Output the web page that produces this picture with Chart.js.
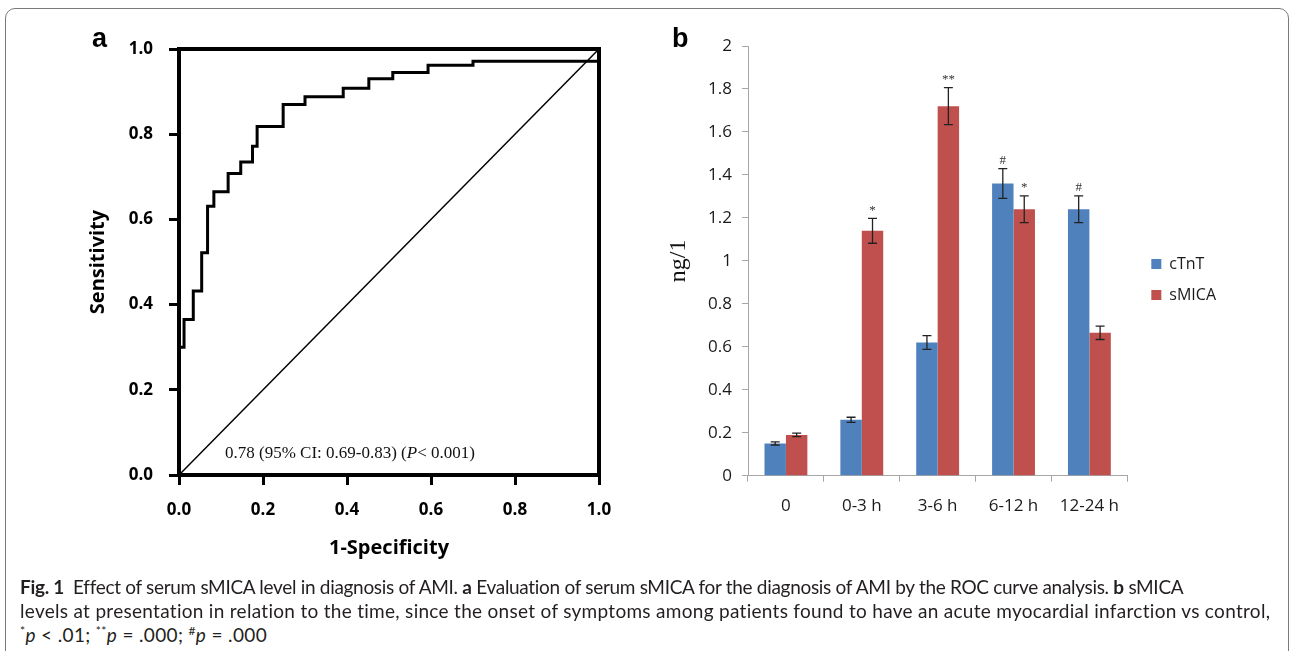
<!DOCTYPE html>
<html>
<head>
<meta charset="utf-8">
<script src="https://cdn.jsdelivr.net/npm/chart.js@4.4.1/dist/chart.umd.min.js"></script>
<style>
  body { margin: 0; background: #fff; width: 1293px; height: 651px; overflow: hidden; position: relative; }
  .frame { position: absolute; left: 5px; top: 8px; width: 1284px; height: 700px; border: 1px solid #7a7a7a; border-radius: 10px; box-sizing: border-box; }
  #wrapA { position: absolute; left: 0; top: 0; width: 640px; height: 580px; }
  #wrapB { position: absolute; left: 640px; top: 0; width: 653px; height: 540px; }
  .panel { position: absolute; font-family: "Liberation Sans", Arial, sans-serif; font-weight: bold; font-size: 27px; line-height: 1; color: #000; }
  .auc { position: absolute; left: 225px; top: 444px; font-family: "Liberation Serif", serif; font-size: 17px; line-height: 1; color: #111; white-space: nowrap; }
  .cap { position: absolute; left: 20px; font-family: Lato, sans-serif; font-size: 19px; line-height: 24px; color: #231f20; white-space: nowrap; }
  .cap sup { font-size: 12px; vertical-align: 7px; line-height: 0; }
</style>
</head>
<body>
<div class="frame"></div>
<div id="wrapA"><canvas id="roc" width="640" height="580"></canvas></div>
<div id="wrapB"><canvas id="bars" width="653" height="540"></canvas></div>
<div class="panel" style="left:92px; top:25px;">a</div>
<div class="panel" style="left:672px; top:25px;">b</div>
<div class="auc">0.78 (95% CI: 0.69-0.83) (<i>P</i>&lt; 0.001)</div>
<div class="cap" data-w="1163" style="top:575px"><b>Fig. 1</b>&nbsp; Effect of serum sMICA level in diagnosis of AMI. <b>a</b> Evaluation of serum sMICA for the diagnosis of AMI by the ROC curve analysis. <b>b</b> sMICA</div>
<div class="cap" data-w="1252" style="top:599px">levels at presentation in relation to the time, since the onset of symptoms among patients found to have an acute myocardial infarction vs control,</div>
<div class="cap" data-w="247" style="top:623px"><sup>*</sup><i>p</i> &lt; .01; <sup>**</sup><i>p</i> = .000; <sup>#</sup><i>p</i> = .000</div>

<script>
/* ===== Panel a: ROC curve (corner points of the step curve) ===== */
const rocFpr = [0, 0, 0.012, 0.034, 0.054, 0.068, 0.083, 0.117, 0.147, 0.175, 0.186, 0.248, 0.30, 0.391, 0.452, 0.509, 0.593, 0.70, 1.0];
const rocTpr = [0, 0.30, 0.365, 0.432, 0.522, 0.631, 0.665, 0.708, 0.735, 0.772, 0.818, 0.870, 0.888, 0.908, 0.930, 0.945, 0.962, 0.971, 1.0];
const refLine = [0, 1];

/* ===== Panel b: bars ===== */
const timeLabels = ['0', '0-3 h', '3-6 h', '6-12 h', '12-24 h'];
const cTnT = [0.15, 0.26, 0.62, 1.36, 1.24];
const cTnTErr = [0.007, 0.012, 0.032, 0.069, 0.062];
const cTnTMarks = ['', '', '', '#', '#'];
const sMICA = [0.19, 1.14, 1.72, 1.24, 0.665];
const sMICAErr = [0.008, 0.058, 0.086, 0.062, 0.031];
const sMICAMarks = ['', '*', '**', '*', ''];

const boldFont = size => ({ family: '"Open Sans", sans-serif', weight: 'bold', size });
const plainFont = size => ({ family: '"Open Sans", sans-serif', size });

// caption lines: stretch letter spacing so each line spans the same width as the figure
document.querySelectorAll('.cap').forEach(el => {
  const target = +el.dataset.w;
  const w = el.getBoundingClientRect().width;
  const n = el.textContent.length;
  el.style.letterSpacing = ((target - w) / n).toFixed(3) + 'px';
});

// thick box around the ROC plot area
const boxFrame = {
  id: 'boxFrame',
  afterDraw(chart) {
    const { ctx, chartArea: a } = chart;
    ctx.save();
    ctx.strokeStyle = '#000';
    ctx.lineWidth = 4;
    ctx.lineJoin = 'miter';
    ctx.strokeRect(a.left, a.top, a.right - a.left, a.bottom - a.top);
    ctx.restore();
  }
};

// error bars + significance marks, positioned through the y scale
const errorBars = {
  id: 'errorBars',
  afterDatasetsDraw(chart) {
    const { ctx } = chart;
    const yScale = chart.scales.y;
    chart.data.datasets.forEach((ds, di) => {
      const meta = chart.getDatasetMeta(di);
      meta.data.forEach((bar, i) => {
        const v = ds.data[i], e = ds.errors[i];
        const yTop = yScale.getPixelForValue(v + e);
        const yBot = yScale.getPixelForValue(v - e);
        ctx.save();
        ctx.strokeStyle = '#222';
        ctx.lineWidth = 1.3;
        ctx.beginPath();
        ctx.moveTo(bar.x, yTop); ctx.lineTo(bar.x, yBot);
        ctx.moveTo(bar.x - 4.5, yTop); ctx.lineTo(bar.x + 4.5, yTop);
        ctx.moveTo(bar.x - 4.5, yBot); ctx.lineTo(bar.x + 4.5, yBot);
        ctx.stroke();
        const mark = ds.marks[i];
        if (mark) {
          ctx.fillStyle = '#333';
          ctx.font = '13px "Liberation Serif", serif';
          ctx.textAlign = 'center';
          ctx.textBaseline = 'middle';
          ctx.fillText(mark, bar.x, yTop - 8);
        }
        ctx.restore();
      });
    });
  }
};

new Chart(document.getElementById('roc'), {
  type: 'scatter',
  data: {
    datasets: [
      {
        data: rocFpr.map((x, i) => ({ x, y: rocTpr[i] })),
        showLine: true, stepped: true,
        borderColor: '#000', borderWidth: 3, pointRadius: 0, clip: 6
      },
      {
        data: refLine.map(v => ({ x: v, y: v })),
        showLine: true,
        borderColor: '#000', borderWidth: 1.5, pointRadius: 0
      }
    ]
  },
  options: {
    responsive: false, animation: false,
    layout: { padding: { left: 82, top: 49, right: 41, bottom: 16 } },
    plugins: { legend: { display: false }, tooltip: { enabled: false } },
    scales: {
      x: {
        type: 'linear', min: 0, max: 1,
        ticks: { stepSize: 0.2, callback: v => v.toFixed(1), font: boldFont(17), color: '#000', padding: 15, maxRotation: 0 },
        grid: { drawOnChartArea: false, drawTicks: true, tickLength: 10, lineWidth: 3, color: '#000' },
        border: { display: false },
        title: { display: true, text: '1-Specificity', font: boldFont(20), color: '#000', padding: { top: 4, bottom: 4 } },
        afterFit: s => { s.height = 89; }
      },
      y: {
        type: 'linear', min: 0, max: 1,
        ticks: { stepSize: 0.2, callback: v => v.toFixed(1), font: boldFont(17), color: '#000', padding: 16 },
        grid: { drawOnChartArea: false, drawTicks: true, tickLength: 10, lineWidth: 3, color: '#000' },
        border: { display: false },
        title: { display: true, text: 'Sensitivity', font: boldFont(20), color: '#000', padding: { top: 4, bottom: 4 } },
        afterFit: s => { s.width = 97; }
      }
    }
  },
  plugins: [boxFrame]
});

new Chart(document.getElementById('bars'), {
  type: 'bar',
  data: {
    labels: timeLabels,
    datasets: [
      { label: 'cTnT', data: cTnT, errors: cTnTErr, marks: cTnTMarks, backgroundColor: '#4F81BD', borderWidth: 0 },
      { label: 'sMICA', data: sMICA, errors: sMICAErr, marks: sMICAMarks, backgroundColor: '#C0504D', borderWidth: 0 }
    ]
  },
  options: {
    responsive: false, animation: false,
    categoryPercentage: 0.565, barPercentage: 1.0,
    layout: { padding: { left: 20, top: 46, right: 67, bottom: 27 } },
    plugins: {
      tooltip: { enabled: false },
      legend: {
        position: 'right', align: 'center',
        labels: { boxWidth: 10, boxHeight: 10, padding: 15, font: plainFont(16), color: '#1a1a1a' }
      }
    },
    scales: {
      x: {
        ticks: { font: plainFont(17), color: '#1a1a1a', padding: 14, maxRotation: 0 },
        grid: { offset: true, drawOnChartArea: false, drawTicks: true, tickLength: 6, color: '#a6a6a6' },
        border: { color: '#a6a6a6' },
        afterFit: s => { s.height = 37.3; }
      },
      y: {
        min: 0, max: 2,
        ticks: { stepSize: 0.2, callback: v => String(+v.toFixed(1)), font: plainFont(17), color: '#1a1a1a', padding: 10 },
        grid: { drawOnChartArea: false, drawTicks: true, tickLength: 6, color: '#a6a6a6' },
        border: { color: '#a6a6a6' },
        title: { display: true, text: 'ng/1', font: { family: '"Liberation Serif", serif', size: 24 }, color: '#111', padding: { top: 4, bottom: 4 } },
        afterFit: s => { s.width = 88; }
      },
      gap: {
        type: 'linear', position: 'right', display: true,
        ticks: { display: false }, grid: { display: false }, border: { display: false },
        afterFit: s => { s.width = 9; }
      }
    }
  },
  plugins: [errorBars]
});
</script>
</body>
</html>
